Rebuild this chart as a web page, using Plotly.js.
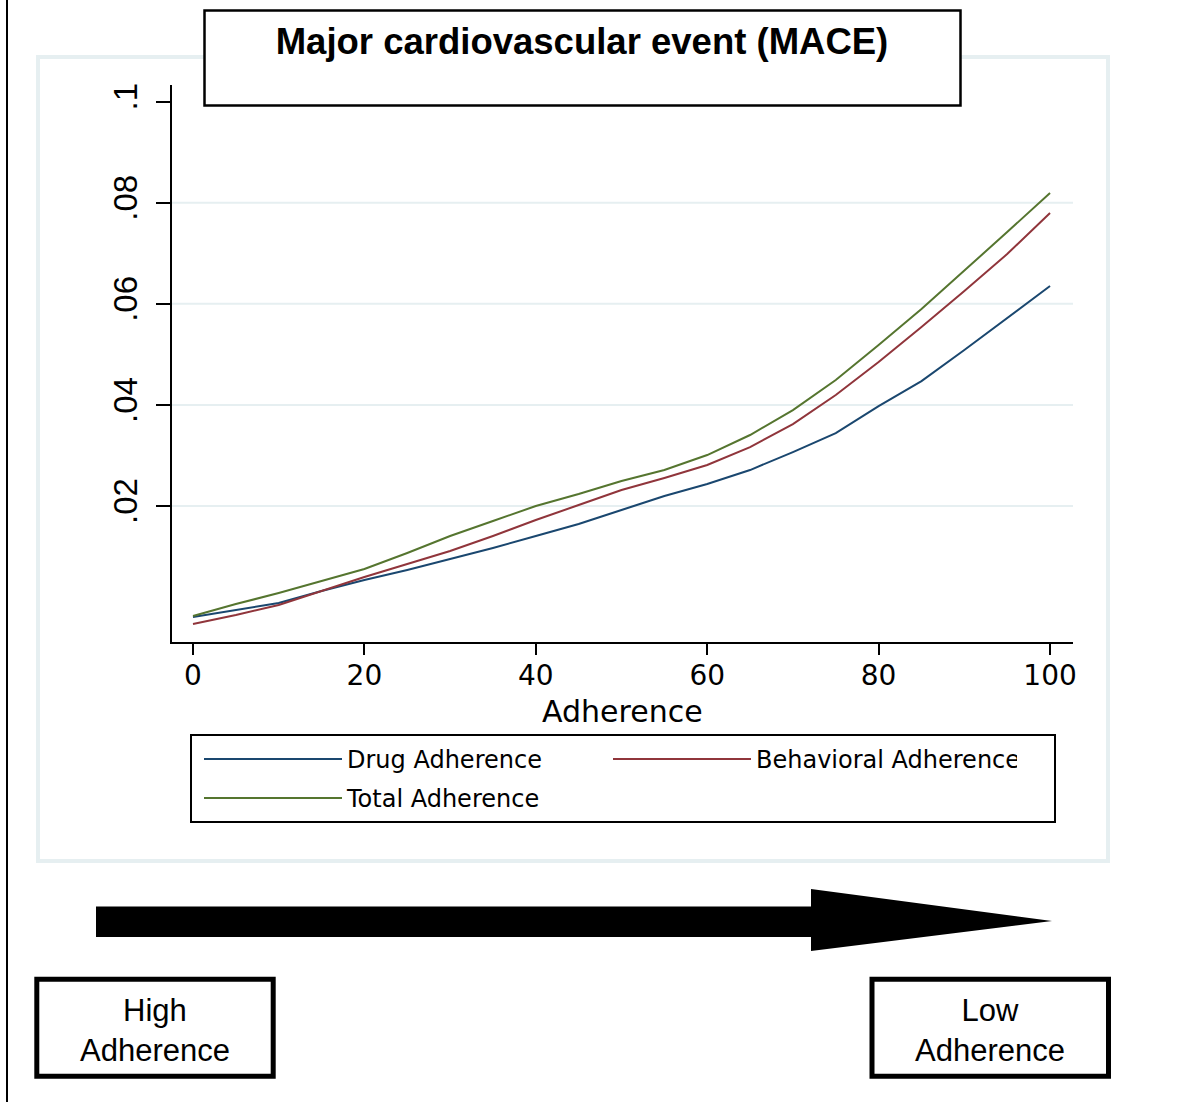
<!DOCTYPE html>
<html><head><meta charset="utf-8">
<script src="https://cdn.plot.ly/plotly-3.0.1.min.js"></script>
<style>html,body{margin:0;padding:0;background:#fff;} #chart{width:1179px;height:1102px;}</style>
</head><body><div id="chart"></div>
<script>
// ---- data ----
const adherence = [0,5,10,15,20,25,30,35,40,45,50,55,60,65,70,75,80,85,90,95,100];
const drugAdherence = [-0.00196,-0.00057,0.00081,0.00318,0.00536,0.00734,0.00951,0.01169,0.01406,0.01644,0.01921,0.02198,0.02435,0.02712,0.03068,0.03444,0.03978,0.04473,0.05086,0.05719,0.06352];
const behavioralAdherence = [-0.00334,-0.00156,0.00042,0.00319,0.00596,0.00853,0.01110,0.01407,0.01723,0.02020,0.02317,0.02555,0.02812,0.03167,0.03622,0.04196,0.04849,0.05541,0.06253,0.06985,0.07797];
const totalAdherence = [-0.00176,0.00061,0.00279,0.00517,0.00754,0.01071,0.01407,0.01704,0.02000,0.02237,0.02495,0.02712,0.03009,0.03405,0.03899,0.04493,0.05185,0.05897,0.06669,0.07421,0.08192];
const seriesNames = ['Drug Adherence','Behavioral Adherence','Total Adherence'];
const xTickVals = [0,20,40,60,80,100];
const yTickVals = [0.02,0.04,0.06,0.08,0.1];
const yTickText = ['.02','.04','.06','.08','.1'];
const gridVals = [0.02,0.04,0.06,0.08];
const chartTitle = 'Major cardiovascular event (MACE)';
const xTitle = 'Adherence';
const leftLabel = 'High<br>Adherence';
const rightLabel = 'Low<br>Adherence';

// ---- helpers: pixel -> paper ----
const W = 1179, H = 1102;
const px = x => x / W;
const py = y => 1 - y / H;

const navy = '#1a476f', maroon = '#90353b', green = '#55752f';
const pale = '#e6eff1';

const traces = [
  {x: adherence, y: drugAdherence, name: seriesNames[0], mode: 'lines', line: {color: navy, width: 2}, legend: 'legend'},
  {x: adherence, y: behavioralAdherence, name: seriesNames[1], mode: 'lines', line: {color: maroon, width: 2}, legend: 'legend'},
  {x: adherence, y: totalAdherence, name: seriesNames[2], mode: 'lines', line: {color: green, width: 2}, legend: 'legend2'}
];

const shapes = [];
// outer left rule
shapes.push({type: 'line', xref: 'paper', yref: 'paper', x0: px(7), x1: px(7), y0: 0, y1: 1, line: {color: '#000', width: 2}});
// pale graph frame
shapes.push({type: 'rect', xref: 'paper', yref: 'paper', x0: px(38), x1: px(1108), y0: py(57), y1: py(861), line: {color: pale, width: 4}});
// grid lines
gridVals.forEach(v => shapes.push({type: 'line', xref: 'paper', yref: 'y', x0: px(172), x1: px(1073), y0: v, y1: v, layer: 'below', line: {color: pale, width: 2}}));
// title box
shapes.push({type: 'rect', xref: 'paper', yref: 'paper', x0: px(204.5), x1: px(960.5), y0: py(10.5), y1: py(105.5), fillcolor: '#fff', line: {color: '#000', width: 2.5}});
// legend box
shapes.push({type: 'rect', xref: 'paper', yref: 'paper', x0: px(191), x1: px(1055), y0: py(735), y1: py(822), line: {color: '#000', width: 2}});
// arrow
const arrowPath = 'M' + px(96) + ',' + py(906.5) + ' L' + px(811) + ',' + py(906.5) + ' L' + px(811) + ',' + py(889) +
  ' L' + px(1052) + ',' + py(921) + ' L' + px(811) + ',' + py(951) + ' L' + px(811) + ',' + py(937) + ' L' + px(96) + ',' + py(937) + ' Z';
shapes.push({type: 'path', xref: 'paper', yref: 'paper', path: arrowPath, fillcolor: '#000', line: {width: 0}});
// bottom boxes
shapes.push({type: 'rect', xref: 'paper', yref: 'paper', x0: px(36.8), x1: px(273.2), y0: py(979.2), y1: py(1076.3), line: {color: '#000', width: 5}});
shapes.push({type: 'rect', xref: 'paper', yref: 'paper', x0: px(872), x1: px(1108.5), y0: py(979.2), y1: py(1076.3), line: {color: '#000', width: 5}});

const boxFont = {family: 'Liberation Sans, Arial, sans-serif', size: 31, color: '#000'};
const annotations = [
  {text: xTitle, xref: 'paper', yref: 'paper', x: px(622.5), y: py(711), xanchor: 'center', yanchor: 'middle', showarrow: false,
   font: {family: 'DejaVu Sans, sans-serif', size: 30, color: '#000'}},
  {text: leftLabel, xref: 'paper', yref: 'paper', x: px(155), y: py(1030), xanchor: 'center', yanchor: 'middle', showarrow: false, font: boxFont, align: 'center'},
  {text: rightLabel, xref: 'paper', yref: 'paper', x: px(989.5), y: py(1030), xanchor: 'center', yanchor: 'middle', showarrow: false, font: boxFont, align: 'center'}
];

const legendCommon = {
  orientation: 'h', xanchor: 'left', yanchor: 'top', bgcolor: 'rgba(0,0,0,0)', borderwidth: 0,
  itemwidth: 138, entrywidth: 256, font: {family: 'DejaVu Sans, sans-serif', size: 24, color: '#000'}
};

const layout = {
  width: W, height: H,
  margin: {l: 0, r: 0, t: 0, b: 0},
  paper_bgcolor: '#fff', plot_bgcolor: '#fff',
  showlegend: true,
  title: {
    text: '<b>' + chartTitle + '</b>', xref: 'paper', yref: 'paper', x: px(582), y: py(41), xanchor: 'center', yanchor: 'middle',
    font: {family: 'Liberation Sans, Arial, sans-serif', size: 36.5, color: '#000'}
  },
  xaxis: {
    domain: [px(172), px(1073)], range: [-2.45, 102.68],
    tickvals: xTickVals, ticktext: xTickVals.map(String),
    ticks: 'outside', ticklen: 11, tickwidth: 2, tickcolor: '#000',
    showline: true, linewidth: 2, linecolor: '#000', showgrid: false, zeroline: false,
    tickfont: {family: 'DejaVu Sans, sans-serif', size: 28, color: '#000'},
    ticklabelstandoff: -4,
    automargin: false, fixedrange: true
  },
  yaxis: {
    domain: [py(642), py(85)], range: [-0.0069, 0.1033],
    tickvals: yTickVals, ticktext: yTickText, tickangle: -90,
    ticks: 'outside', ticklen: 14, tickwidth: 2, tickcolor: '#000',
    showline: true, linewidth: 2, linecolor: '#000', showgrid: false, zeroline: false,
    tickfont: {family: 'Liberation Sans Narrow, Arial Narrow, Liberation Sans, Arial, sans-serif', size: 33, color: '#000'},
    ticklabelstandoff: 6,
    automargin: false, fixedrange: true
  },
  legend: Object.assign({}, legendCommon, {x: px(199), y: py(737)}),
  legend2: Object.assign({}, legendCommon, {x: px(199), y: py(776)}),
  shapes: shapes,
  annotations: annotations
};

Plotly.newPlot('chart', traces, layout, {displayModeBar: false, staticPlot: true});
</script>
</body></html>
